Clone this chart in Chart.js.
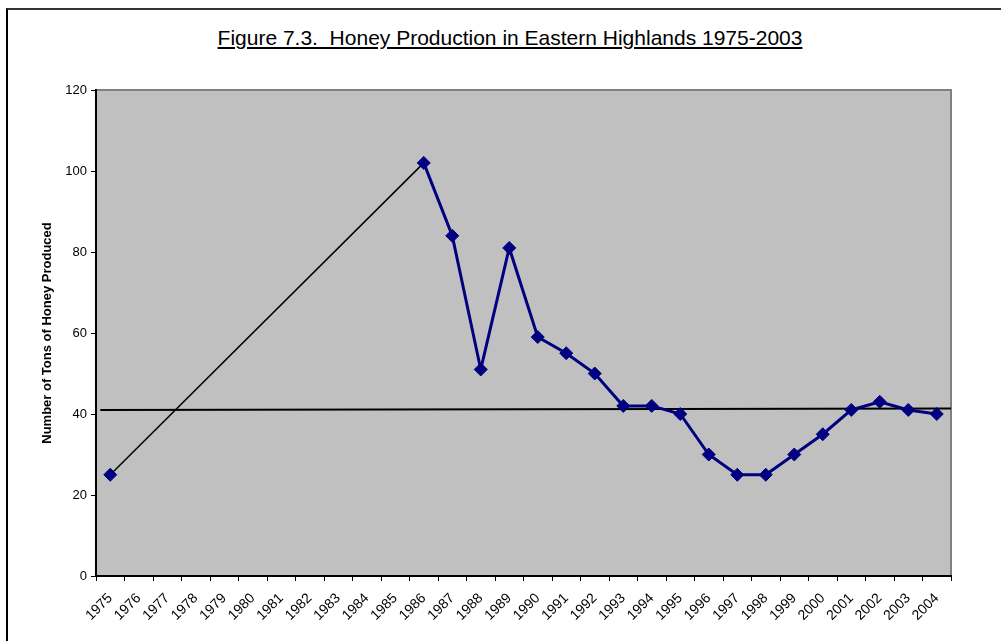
<!DOCTYPE html>
<html>
<head>
<meta charset="utf-8">
<script src="https://cdn.jsdelivr.net/npm/chart.js@4/dist/chart.umd.min.js"></script>
<style>
  html, body { margin: 0; padding: 0; background: #fff; }
  #wrap { position: relative; width: 1001px; height: 641px; overflow: hidden; }
  #frame { position: absolute; left: 6px; top: 8px; width: 1100px; height: 700px;
           border-left: 2px solid #000; border-top: 2px solid #333; }
  #title { position: absolute; left: 0; width: 1020px; top: 26px; text-align: center;
           font-family: "Liberation Sans", Arial, sans-serif; font-size: 21px;
           text-decoration: underline; text-underline-offset: 2px; color: #000; white-space: pre; }
  canvas { position: absolute; left: 0; top: 0; }
</style>
</head>
<body>
<div id="wrap">
  <div id="frame"></div>
  <div id="title">Figure 7.3.  Honey Production in Eastern Highlands 1975-2003</div>
  <canvas id="c" width="1001" height="641"></canvas>
</div>
<script>
const years = ["1975","1976","1977","1978","1979","1980","1981","1982","1983","1984","1985","1986","1987","1988","1989","1990","1991","1992","1993","1994","1995","1996","1997","1998","1999","2000","2001","2002","2003","2004"];
const production = [25,null,null,null,null,null,null,null,null,null,null,102,84,51,81,59,55,50,42,42,40,30,25,25,30,35,41,43,41,40];
const connector = [25,null,null,null,null,null,null,null,null,null,null,102,null,null,null,null,null,null,null,null,null,null,null,null,null,null,null,null,null,null];
const trendX = [0.15, 30];
const trendY = [41.0, 41.35];
const yTicks = [0,20,40,60,80,100,120];

const FONT = "'Liberation Sans', Arial, sans-serif";

const plotBg = {
  id: 'plotBg',
  beforeDraw(chart) {
    const {ctx, chartArea: a} = chart;
    ctx.save();
    ctx.fillStyle = '#C0C0C0';
    ctx.fillRect(a.left, a.top, a.right - a.left, a.bottom - a.top);
    ctx.strokeStyle = '#808080';
    ctx.lineWidth = 2;
    ctx.beginPath();
    ctx.moveTo(a.left, a.top);
    ctx.lineTo(a.right, a.top);
    ctx.lineTo(a.right, a.bottom);
    ctx.stroke();
    ctx.restore();
  }
};

new Chart(document.getElementById('c'), {
  type: 'line',
  data: {
    labels: years,
    datasets: [
      {
        label: 'trend',
        data: trendX.map((x, i) => ({x: x, y: trendY[i]})),
        xAxisID: 'x2',
        borderColor: '#000',
        borderWidth: 2,
        pointRadius: 0,
        order: 3
      },
      {
        label: 'connector',
        data: connector,
        spanGaps: true,
        borderColor: '#000',
        borderWidth: 1.5,
        pointRadius: 0,
        order: 2
      },
      {
        label: 'Honey',
        data: production,
        spanGaps: false,
        borderColor: '#000080',
        borderWidth: 3,
        pointStyle: 'rectRot',
        pointRadius: 6.5,
        pointBackgroundColor: '#000080',
        pointBorderColor: '#000080',
        pointBorderWidth: 1,
        order: 1
      }
    ]
  },
  options: {
    responsive: false,
    animation: false,
    layout: { padding: { top: 90, right: 50, left: 0, bottom: 0 } },
    plugins: { legend: { display: false }, title: { display: false }, tooltip: { enabled: false } },
    scales: {
      x: {
        type: 'category',
        offset: true,
        grid: { offset: true, drawOnChartArea: false, drawTicks: true, tickLength: 5, color: '#000', lineWidth: 1 },
        border: { display: true, color: '#000', width: 2 },
        ticks: { font: { family: FONT, size: 14 }, color: '#000', minRotation: 45, maxRotation: 45, autoSkip: false, padding: 9 },
        afterFit(s) { s.height = 641 - 576; }
      },
      x2: {
        type: 'linear',
        display: false,
        min: 0,
        max: 30
      },
      y: {
        min: 0,
        max: 120,
        afterBuildTicks(s) { s.ticks = yTicks.map(v => ({value: v})); },
        grid: { drawOnChartArea: false, drawTicks: true, tickLength: 5, color: '#000' },
        border: { display: true, color: '#000', width: 2 },
        ticks: { font: { family: FONT, size: 13 }, color: '#000', padding: 4 },
        title: { display: true, text: 'Number of Tons of Honey Produced', font: { family: FONT, size: 13, weight: 'bold' }, color: '#000', padding: { top: 40, bottom: 0 } },
        afterFit(s) { s.width = 96; }
      }
    }
  },
  plugins: [plotBg]
});
</script>
</body>
</html>
